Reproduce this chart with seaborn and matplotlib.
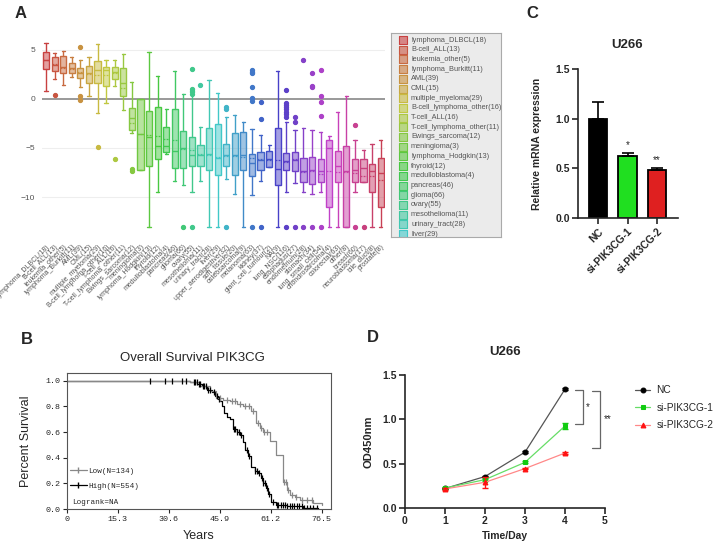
import numpy as np
import pandas as pd
import matplotlib
matplotlib.use("Agg")
import matplotlib.pyplot as plt
from matplotlib.lines import Line2D
import seaborn as sns

# ── Panel A : expression per tissue (box stats) ───────────────────────────────
tissues = ["lymphoma_DLBCL(18)", "B-cell_ALL(13)", "leukemia_other(5)", "lymphoma_Burkitt(11)",
           "AML(39)", "CML(15)", "multiple_myeloma(29)", "B-cell_lymphoma_other(16)",
           "T-cell_ALL(16)", "T-cell_lymphoma_other(11)", "Ewings_sarcoma(12)", "meningioma(3)",
           "lymphoma_Hodgkin(13)", "thyroid(12)", "medulloblastoma(4)", "pancreas(46)",
           "glioma(66)", "ovary(55)", "mesothelioma(11)", "urinary_tract(28)", "liver(29)",
           "upper_aerodigestive(32)", "soft_tissue(20)", "osteosarcoma(9)", "melanoma(63)",
           "kidney(37)", "giant_cell_tumour(2)", "NA(9)", "lung_NSC(116)", "esophagus(27)",
           "endometrium(28)", "stomach(34)", "lung_small_cell(54)", "chondrosarcoma(4)",
           "colorectal(63)", "other(8)", "breast(60)", "neuroblastoma(17)", "bile_duct(8)",
           "prostate(8)"]
whishi = [5.7, 4.7, 4.9, 4.3, 4.0, 4.3, 5.6, 4.0, 4.0, 4.6,
          1.7, 0.0, 4.8, 2.3, -1.0, 2.9, 0.5, 0.7, -2.9, 1.9,
          0.6, -1.8, -1.6, -2.3, -3.1, -3.7, -4.7, 2.9, -2.3, -3.2,
          -3.0, -3.2, -3.4, -3.8, -1.3, 0.3, -4.2, -5.2, -4.6, -4.2]
q3 = [4.8, 4.3, 4.4, 3.7, 3.2, 3.4, 3.9, 3.3, 3.3, 3.2,
      -0.9, 0.0, -1.2, -0.8, -2.9, -1.0, -3.3, -3.9, -4.7, -3.0,
      -2.6, -4.6, -3.5, -3.4, -5.6, -5.4, -5.3, -3.0, -5.5, -5.4,
      -6.0, -5.9, -6.1, -4.2, -5.3, -4.8, -6.1, -6.1, -6.6, -6.0]
med = [4.0, 3.5, 3.3, 3.2, 2.7, 2.6, 3.0, 3.0, 2.8, 1.6,
       -1.9, -3.6, -3.9, -4.8, -4.8, -5.3, -5.0, -5.7, -5.7, -5.6,
       -6.0, -5.7, -5.7, -5.7, -6.5, -6.2, -6.1, -7.1, -6.3, -6.2,
       -7.3, -7.2, -7.3, -5.0, -6.8, -7.3, -7.2, -7.0, -7.3, -7.6]
mean = [4.0, 3.6, 3.2, 3.1, 2.8, 2.5, 2.4, 2.4, 2.7, 1.1,
        -2.5, -3.6, -3.7, -3.8, -4.1, -4.2, -5.1, -5.2, -5.6, -5.7,
        -5.9, -5.8, -5.8, -5.9, -6.0, -6.1, -6.2, -6.2, -6.4, -6.1,
        -7.4, -7.3, -7.7, -7.3, -7.4, -7.5, -7.6, -7.9, -7.9, -8.3]
q1 = [3.1, 2.9, 2.7, 2.6, 2.1, 1.6, 1.6, 1.3, 2.0, 0.3,
      -3.2, -7.2, -6.8, -6.1, -5.4, -7.0, -7.0, -6.8, -6.8, -7.2,
      -7.8, -6.8, -7.8, -7.2, -7.9, -7.2, -6.9, -8.8, -7.2, -7.3,
      -8.5, -8.7, -8.5, -11.0, -8.5, -13.1, -8.5, -8.5, -9.5, -11.0]
whislo = [0.8, 2.0, 1.4, 2.2, 1.2, 0.3, -1.4, -0.4, 1.3, -1.1,
          -3.5, -7.2, -13.1, -9.5, -5.6, -8.4, -8.8, -9.5, -8.4, -13.1,
          -13.1, -8.2, -9.7, -13.1, -9.8, -8.4, -6.9, -13.1, -9.5, -8.6,
          -9.5, -9.7, -9.5, -13.1, -13.1, -13.1, -9.5, -8.5, -13.1, -13.1]
outliers = [[], [0.4], [], [], [5.3, 0.3, -0.1], [], [-4.9], [], [-6.1], [],
            [-7.1, -7.3], [], [], [], [], [], [-13.1], [3.1, 1.0, 0.8, 0.5, -13.1], [1.4], [],
            [], [-0.8, -1.0, -13.1], [], [], [3.0, 2.8, 2.6, 1.2, 0.1, -0.2, -13.1],
            [-0.3, -2.0, -13.1], [], [], [0.9, -0.4, -0.6, -0.8, -1.0, -1.3, -1.5, -1.8, -13.1],
            [-1.8, -2.3, -13.1], [4.0, -13.1], [2.7, 1.3, 1.2, -13.1],
            [3.0, 0.3, -0.3, -1.7, -13.1], [], [], [], [-2.7, -13.1], [-13.1], [], []]
n_legend = 21   # legend box shows only the first entries

# ── Panel B : Kaplan-Meier steps ──────────────────────────────────────────────
high_t = [0, 37, 39, 40.5, 42, 43.5, 44.5, 45.5, 46, 46.5, 47.2, 48, 49, 49.9, 51,
          52, 53, 53.4, 54.4, 55.4, 56.5, 57.4, 58.2, 58.9, 59.7, 60.4, 61.4, 62.9,
          66, 70.8, 75.5]
high_s = [1.0, 0.99, 0.975, 0.96, 0.93, 0.91, 0.88, 0.86, 0.84, 0.80, 0.75, 0.72,
          0.70, 0.62, 0.60, 0.58, 0.52, 0.46, 0.41, 0.33, 0.30, 0.28, 0.24, 0.20,
          0.16, 0.12, 0.057, 0.03, 0.02, 0.01, 0.0]
low_t = [0, 37, 40, 43, 44.9, 47, 48.9, 51, 52.9, 55.4, 56.9, 58, 58.9, 60.9, 62.7,
         64.8, 66, 67, 68.5, 70, 73.9, 76.5]
low_s = [1.0, 0.99, 0.96, 0.92, 0.865, 0.85, 0.84, 0.82, 0.80, 0.76, 0.67, 0.63,
         0.60, 0.53, 0.42, 0.21, 0.15, 0.11, 0.09, 0.07, 0.045, 0.03]
high_cens = [24.9, 29.3, 31.5, 34.6, 35.8, 38.0, 38.4, 38.9, 39.5, 40.1, 40.8, 41.2,
             41.9, 42.5, 43.0, 44.2, 45.0, 45.6, 50.1, 50.6, 51.2, 51.8, 52.3, 54.0,
             54.6, 56.5, 57.0, 57.8, 58.5, 59.0, 59.5, 60.0, 60.6, 62.0, 63.0, 63.5,
             64.2, 65.0, 65.5, 66.2, 67.0, 67.5, 68.3, 69.0, 69.8, 70.5, 71.2, 72.0,
             73.0, 74.0, 75.0]
low_cens = [46.0, 48.0, 49.5, 50.5, 52.0, 53.5, 54.8, 55.8, 57.5, 58.3, 59.3, 60.0,
            65.2, 65.8, 66.5, 67.5, 68.8, 70.5, 72.2, 73.5]
km_ticks = [0, 15.3, 30.6, 45.9, 61.2, 76.5]

# ── Panel C : relative mRNA expression ────────────────────────────────────────
groups = ["NC", "si-PIK3CG-1", "si-PIK3CG-2"]
mrna = [1.0, 0.62, 0.48]
mrna_err = [0.17, 0.03, 0.02]
mrna_sig = ["", "*", "**"]

# ── Panel D : CCK-8 growth curve ──────────────────────────────────────────────
days = [1, 2, 3, 4]
od_nc = [0.22, 0.355, 0.63, 1.34]
od_si1 = [0.225, 0.32, 0.515, 0.925]
od_si2 = [0.215, 0.29, 0.445, 0.62]
err_nc = [0.01, 0.01, 0.01, 0.01]
err_si1 = [0.01, 0.01, 0.01, 0.03]
err_si2 = [0.01, 0.06, 0.01, 0.01]

sns.set_style("ticks")
plt.rcParams["font.family"] = ["Liberation Sans", "DejaVu Sans"]

W, H = 719, 544
fig = plt.figure(figsize=(W / 100, H / 100), dpi=100)


def box(x0, y0, x1, y1):
    return [x0 / W, 1 - y1 / H, (x1 - x0) / W, (y1 - y0) / H]


def ftext(x, y, s, **kw):
    fig.text(x / W, 1 - y / H, s, ha="center", va="center", **kw)


# ── A ─────────────────────────────────────────────────────────────────────────
axA = fig.add_axes(box(42, 33, 385, 232))
cols = sns.hls_palette(len(tissues), h=0.0, l=0.52, s=0.55)
for i, c in enumerate(cols):
    st = dict(whislo=whislo[i], q1=q1[i], med=med[i], mean=mean[i], q3=q3[i],
              whishi=whishi[i], fliers=outliers[i])
    axA.bxp([st], positions=[i], widths=0.72, patch_artist=True, showmeans=True,
            meanline=True, capwidths=0.38,
            boxprops=dict(facecolor=(*c, 0.5), edgecolor=c, linewidth=1.0),
            medianprops=dict(color=c, linewidth=1.0),
            meanprops=dict(color=c, linewidth=0.9, linestyle=(0, (1.5, 1))),
            whiskerprops=dict(color=c, linewidth=1.0),
            capprops=dict(color=c, linewidth=1.0),
            flierprops=dict(marker="o", markersize=2.8, markerfacecolor=c,
                            markeredgecolor=c))
axA.set_xlim(-0.47, 39.5)
axA.set_ylim(-13.57, 6.73)
axA.set_yticks([5, 0, -5, -10])
axA.set_yticklabels(["5", "0", "\u22125", "\u221210"], fontsize=6, color="#555555")
axA.set_xticks(range(len(tissues)))
axA.set_xticklabels(tissues, rotation=45, ha="right", rotation_mode="anchor",
                    fontsize=5, color="#555555")
axA.tick_params(length=0, pad=5)
axA.tick_params(axis="x", pad=8)
for y in [5, -5, -10]:
    axA.axhline(y, color="#eeeeee", lw=0.8, zorder=0)
axA.axhline(0, color="#888888", lw=1.2, zorder=0.5)
for s in axA.spines.values():
    s.set_visible(False)

axL = fig.add_axes(box(391, 33, 501, 237))
axL.set_facecolor("#ebebeb")
for s in axL.spines.values():
    s.set_color("#aaaaaa")
    s.set_linewidth(0.8)
axL.set_xlim(0, 110)
axL.set_ylim(204, 0)
axL.set_xticks([])
axL.set_yticks([])
for i in range(n_legend):
    yy = 7 + 9.7 * i
    axL.scatter([11.5], [yy], marker="s", s=26, color=(*cols[i], 0.6),
                edgecolor=cols[i], linewidth=0.8, clip_on=True)
    axL.text(20, yy, tissues[i], fontsize=5.3, color="#555555", va="center",
             clip_on=True)

# ── B ─────────────────────────────────────────────────────────────────────────
axB = fig.add_axes(box(67, 373, 331, 509))
mono = dict(family="Liberation Mono", size=6)


def km_at(t_steps, s_steps, times):
    idx = np.searchsorted(t_steps, times, side="right") - 1
    return np.asarray(s_steps)[idx]


axB.step(high_t, high_s, where="post", color="black", lw=0.9)
axB.step(low_t, low_s, where="post", color="#888888", lw=0.9)
axB.plot(high_cens, km_at(high_t, high_s, high_cens), "|", color="black", ms=5, mew=0.9)
axB.plot(low_cens, km_at(low_t, low_s, low_cens), "|", color="#888888", ms=5, mew=0.9)
axB.set_xlim(0, 79.3)
axB.set_ylim(0, 1.06)
axB.set_xticks(km_ticks)
axB.set_xticklabels([f"{t:g}" if t else "0" for t in km_ticks], fontdict=mono)
axB.set_yticks([0, 0.2, 0.4, 0.6, 0.8, 1.0])
axB.set_yticklabels(["0.0", "0.2", "0.4", "0.6", "0.8", "1.0"], fontdict=mono)
axB.tick_params(length=3, width=0.8, pad=2)
for s in axB.spines.values():
    s.set_color("#555555")
    s.set_linewidth(0.8)
axB.set_ylabel("Percent Survival", fontsize=9)
axB.yaxis.set_label_coords(-0.133, 0.5)
axB.set_xlabel("Years", fontsize=9)
axB.xaxis.set_label_coords(0.5, -0.155)
handles = [Line2D([], [], color="#888888", marker="|", lw=0.9, ms=5),
           Line2D([], [], color="black", marker="|", lw=0.9, ms=5)]
axB.legend(handles, ["Low(N=134)", "High(N=554)"], loc="lower left",
           bbox_to_anchor=(-0.01, 0.1), frameon=False, prop=dict(family="Liberation Mono", size=5.5),
           handlelength=2.2, handletextpad=0.2, labelspacing=1.0, borderpad=0.2)
axB.text(0.02, 0.05, "Logrank=NA", transform=axB.transAxes, fontdict=dict(family="Liberation Mono", size=5.5),
         va="center")

# ── C ─────────────────────────────────────────────────────────────────────────
axC = fig.add_axes(box(578, 69, 678, 218))
dfC = pd.DataFrame({"group": groups, "val": mrna})
sns.barplot(data=dfC, x="group", y="val", hue="group",
            palette=["black", "#00ff00", "#ff0000"], width=0.64,
            edgecolor="black", linewidth=1.3, legend=False, ax=axC)
axC.errorbar(range(len(groups)), mrna, yerr=[[0] * len(groups), mrna_err], fmt="none",
             ecolor="black", elinewidth=1.2, capsize=4, capthick=1.2)
for i, lab in enumerate(mrna_sig):
    if lab:
        axC.text(i, mrna[i] + mrna_err[i] + 0.03, lab, ha="center", va="bottom",
                 fontsize=7)
axC.set_xlim(-0.68, 2.71)
axC.set_ylim(0, 1.5)
axC.set_yticks([0, 0.5, 1.0, 1.5])
axC.set_yticklabels(["0.0", "0.5", "1.0", "1.5"], fontsize=7.5, fontweight="bold")
axC.set_xticks(range(len(groups)))
axC.set_xticklabels(groups, rotation=45, ha="right", rotation_mode="anchor",
                    fontsize=7.5, fontweight="bold")
axC.set_xlabel("")
axC.set_ylabel("Relative mRNA expression", fontsize=7.5, fontweight="bold")
axC.yaxis.set_label_coords(-0.36, 0.5)
sns.despine(ax=axC)
for s in ["left", "bottom"]:
    axC.spines[s].set_linewidth(1.2)
axC.tick_params(width=1.2, length=4, pad=2)

# ── D ─────────────────────────────────────────────────────────────────────────
axD = fig.add_axes(box(405, 375, 605, 508))
series = [("NC", od_nc, err_nc, "#555555", "black", "o"),
          ("si-PIK3CG-1", od_si1, err_si1, "#66dd66", "#11cc11", "s"),
          ("si-PIK3CG-2", od_si2, err_si2, "#ff8888", "#ff1111", "^")]
for name, vals, err, lc, mc, mk in series:
    sns.lineplot(x=days, y=vals, color=lc, marker=mk, markersize=3.5,
                 markerfacecolor=mc, markeredgecolor=mc, lw=0.9, label=name, ax=axD)
    axD.errorbar(days, vals, yerr=err, fmt="none", ecolor=mc, elinewidth=1.0,
                 capsize=2, capthick=1.0)
axD.plot([4.25, 4.45, 4.45, 4.25], [1.33, 1.33, 0.945, 0.945], color="#666666",
         lw=0.9, clip_on=False)
axD.text(4.58, 1.14, "*", ha="center", va="center", fontsize=7)
axD.plot([4.67, 4.88, 4.88, 4.67], [1.32, 1.32, 0.675, 0.675], color="#666666",
         lw=0.9, clip_on=False)
axD.text(5.08, 1.0, "**", ha="center", va="center", fontsize=7)
axD.set_xlim(0, 5)
axD.set_ylim(0, 1.5)
axD.set_xticks([0, 1, 2, 3, 4, 5])
axD.set_xticklabels(["0", "1", "2", "3", "4", "5"], fontsize=7.5, fontweight="bold")
axD.set_yticks([0, 0.5, 1.0, 1.5])
axD.set_yticklabels(["0.0", "0.5", "1.0", "1.5"], fontsize=7.5, fontweight="bold")
axD.set_xlabel("Time/Day", fontsize=7.5, fontweight="bold")
axD.xaxis.set_label_coords(0.5, -0.17)
axD.set_ylabel("OD450nm", fontsize=8, fontweight="bold")
axD.yaxis.set_label_coords(-0.16, 0.5)
sns.despine(ax=axD)
for s in ["left", "bottom"]:
    axD.spines[s].set_linewidth(1.2)
axD.tick_params(width=1.2, length=4, pad=2)
axD.legend(loc="upper left", bbox_to_anchor=(626 / W, 1 - 376 / H),
           bbox_transform=fig.transFigure, frameon=False, fontsize=7.3,
           handlelength=1.5, handletextpad=0.6, labelspacing=0.75)

# ── labels & titles ───────────────────────────────────────────────────────────
ftext(21, 13, "A", fontsize=12, fontweight="bold")
ftext(27, 339, "B", fontsize=12, fontweight="bold")
ftext(532, 13, "C", fontsize=12, fontweight="bold")
ftext(373, 337, "D", fontsize=12, fontweight="bold")
ftext(192, 358, "Overall Survival PIK3CG", fontsize=9.5)
ftext(627, 45, "U266", fontsize=9.5, fontweight="bold")
ftext(505, 352, "U266", fontsize=9.5, fontweight="bold")

fig.savefig("out.png", dpi=100)
